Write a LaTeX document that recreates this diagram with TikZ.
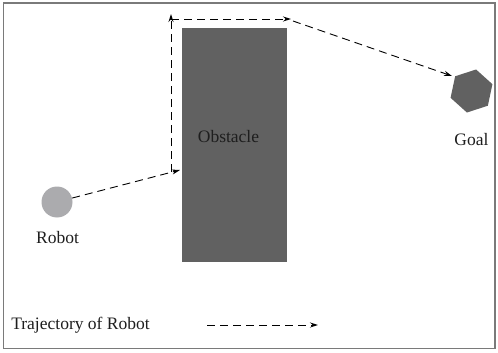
\documentclass[tikz,border=0pt]{standalone}
\usepackage{fontspec}
\setmainfont{Liberation Serif}
\usetikzlibrary{arrows.meta,shapes.geometric}
\definecolor{obst}{HTML}{616161}
\definecolor{robc}{HTML}{ABABAE}
\definecolor{frame}{HTML}{7A7A7A}
\definecolor{txt}{HTML}{1E1E1E}
\tikzset{
  traj/.style={line width=0.9pt, dash pattern=on 8pt off 5pt, -{Stealth[length=8pt,width=5pt]}},
  lbl/.style={font=\fontsize{17.5}{20}\selectfont, text=txt, inner sep=0pt},
}
\begin{document}
\begin{tikzpicture}[x=1pt,y=-1pt]
\useasboundingbox (0,0) rectangle (498,353);
\draw[frame, line width=1.3pt] (3.5,3) rectangle (495,348.5);
% obstacle
\node[fill=obst, minimum width=105pt, minimum height=234pt, inner sep=0pt] (obstacle) at (234.5,145) {};
\node[lbl] (obstlbl) at (228.5,137) {Obstacle};
% robot
\node[circle, fill=robc, minimum size=31pt, inner sep=0pt] (robot) at (57,202) {};
\node[lbl] (robotlbl) at (57.5,238) {Robot};
% goal
\node[regular polygon, regular polygon sides=6, fill=obst, minimum size=44pt, inner sep=0pt, shape border rotate=18] (goal) at (471.5,91) {};
\node[lbl] (goallbl) at (471.5,140) {Goal};
% trajectory points
\coordinate (p1) at (180,170);
\coordinate (p2) at (171,172);
\coordinate (p3) at (171,14);
\coordinate (p4) at (171,19);
\coordinate (p5) at (291,19);
\coordinate (p6) at (293,21);
\coordinate (p7) at (452,76);
\draw[traj] (robot) -- (p1);
\draw[traj] (p2) -- (p3);
\draw[traj] (p4) -- (p5);
\draw[traj] (p6) -- (p7);
% legend
\node[lbl] (leglbl) at (80.5,325) {Trajectory of Robot};
\coordinate (l1) at (207,325);
\coordinate (l2) at (318,325);
\draw[traj] (l1) -- (l2);
\end{tikzpicture}
\end{document}
